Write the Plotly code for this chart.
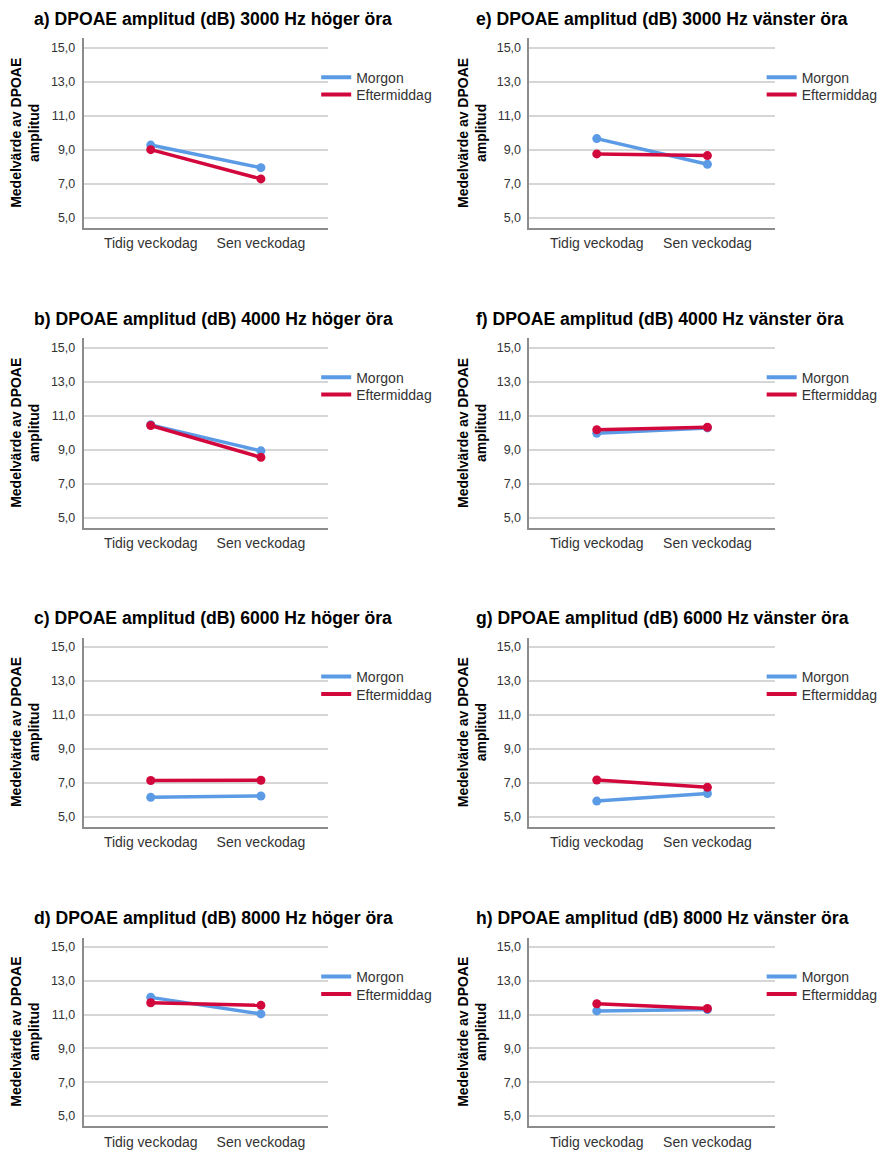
import plotly.graph_objects as go

W, H = 883, 1151

categories = ["Tidig veckodag", "Sen veckodag"]
series_names = ["Morgon", "Eftermiddag"]

titles = [
    "a) DPOAE amplitud (dB) 3000 Hz höger öra",
    "b) DPOAE amplitud (dB) 4000 Hz höger öra",
    "c) DPOAE amplitud (dB) 6000 Hz höger öra",
    "d) DPOAE amplitud (dB) 8000 Hz höger öra",
    "e) DPOAE amplitud (dB) 3000 Hz vänster öra",
    "f) DPOAE amplitud (dB) 4000 Hz vänster öra",
    "g) DPOAE amplitud (dB) 6000 Hz vänster öra",
    "h) DPOAE amplitud (dB) 8000 Hz vänster öra",
]

morgon = [
    [9.27, 7.94],
    [10.46, 8.93],
    [6.14, 6.22],
    [12.02, 11.04],
    [9.65, 8.14],
    [9.96, 10.28],
    [5.92, 6.37],
    [11.22, 11.30],
]
eftermiddag = [
    [9.00, 7.28],
    [10.42, 8.55],
    [7.13, 7.15],
    [11.70, 11.55],
    [8.75, 8.65],
    [10.17, 10.32],
    [7.16, 6.73],
    [11.64, 11.36],
]

y_tickvals = [5, 7, 9, 11, 13, 15]
y_title = "Medelvärde av DPOAE<br>amplitud"

colors = ["#5b9be6", "#d2083d"]
FONT = "Liberation Sans, Arial, sans-serif"

# layout geometry (pixels)
col_x0 = [84, 532.3]
col_x1 = [330, 779.3]
row_top = [38.3, 338.3, 637.7, 937.7]
row_bot = [227.7, 527.7, 826.7, 1126]
title_y = [19, 319, 618, 917.5]
title_x = [32, 476.5]
ytitle_x = [25, 474.7]
legend_x = [318, 766]
legend_center = [[77.7, 95.0], [377.7, 395.0], [677.0, 694.5], [977.0, 994.5]]
LEGEND_OFFSET = 16

fig = go.Figure()
annotations = []
layout = dict(
    width=W, height=H,
    margin=dict(l=0, r=0, t=0, b=0),
    paper_bgcolor="white", plot_bgcolor="white",
    separators=", ",
    font=dict(family=FONT, color="#333333"),
    annotations=annotations,
    showlegend=True,
)

lg_count = 0
for i in range(8):
    col = i // 4
    row = i % 4
    ax = "" if i == 0 else str(i + 1)
    vals = [morgon[i], eftermiddag[i]]
    for s in range(2):
        lg_count += 1
        lg = "legend" if lg_count == 1 else f"legend{lg_count}"
        fig.add_trace(go.Scatter(
            x=categories, y=vals[s], name=series_names[s],
            mode="lines+markers",
            line=dict(color=colors[s], width=3.5),
            marker=dict(color=colors[s], size=9),
            xaxis="x" + ax, yaxis="y" + ax, showlegend=False,
            hoverinfo="skip",
        ))
        # legend entry (line only), as in the reference legend
        fig.add_trace(go.Scatter(
            x=[None], y=[None], name=series_names[s], mode="lines",
            line=dict(color=colors[s], width=4),
            xaxis="x" + ax, yaxis="y" + ax, legend=lg, showlegend=True,
            hoverinfo="skip",
        ))
        layout[lg] = dict(
            x=legend_x[col] / W, xanchor="left",
            y=1 - (legend_center[row][s] - LEGEND_OFFSET) / H, yanchor="top",
            bgcolor="rgba(0,0,0,0)", borderwidth=0,
            font=dict(size=14, color="#333333", family=FONT),
            itemwidth=30,
        )
    xd = [col_x0[col] / W, col_x1[col] / W]
    yd = [1 - row_bot[row] / H, 1 - row_top[row] / H]
    layout["xaxis" + ax] = dict(
        domain=xd, anchor="y" + ax, type="category",
        range=[-0.61, 1.61], showgrid=False, zeroline=False,
        showline=True, linecolor="#8c8c8c", linewidth=1.5,
        ticks="", ticklabelstandoff=2,
        tickfont=dict(size=14, color="#333333", family=FONT),
        fixedrange=True,
    )
    layout["yaxis" + ax] = dict(
        domain=yd, anchor="x" + ax,
        range=[4.41, 15.55], tickvals=y_tickvals, tickformat=".1f",
        showgrid=True, gridcolor="#d6d6d6", gridwidth=1.5,
        zeroline=False, showline=True, linecolor="#8c8c8c", linewidth=1.5,
        ticks="", ticklabelstandoff=4,
        tickfont=dict(size=12.5, color="#333333", family=FONT),
        fixedrange=True,
    )
    annotations.append(dict(
        text="<b>" + titles[i] + "</b>", xref="paper", yref="paper",
        x=title_x[col] / W, y=1 - title_y[row] / H,
        xanchor="left", yanchor="middle", showarrow=False,
        font=dict(size=17.6, color="#000000", family=FONT),
    ))
    annotations.append(dict(
        text="<b>" + y_title + "</b>", xref="paper", yref="paper",
        x=ytitle_x[col] / W, y=1 - (row_top[row] + row_bot[row]) / 2 / H,
        xanchor="center", yanchor="middle", showarrow=False, textangle=-90,
        font=dict(size=14, color="#000000", family=FONT),
    ))

fig.update_layout(**layout)
fig.write_html("out.html")
